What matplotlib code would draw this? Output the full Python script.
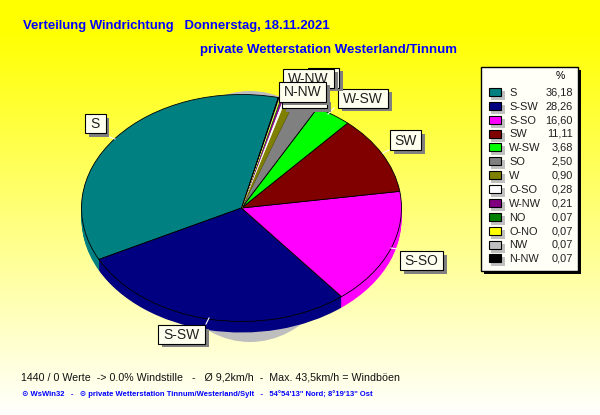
import numpy as np
import matplotlib
matplotlib.use("Agg")
import matplotlib.pyplot as plt
from matplotlib.patches import Rectangle, Ellipse

directions = ["S", "S-SW", "S-SO", "SW", "W-SW", "SO", "W", "O-SO", "W-NW", "NO", "O-NO", "NW", "N-NW"]
percent = [36.18, 28.26, 16.60, 11.11, 3.68, 2.50, 0.90, 0.28, 0.21, 0.07, 0.07, 0.07, 0.07]
colors = ["#008080", "#000080", "#FF00FF", "#800000", "#00FF00", "#808080", "#808000",
          "#FFFFFF", "#800080", "#008000", "#FFFF00", "#C0C0C0", "#000000"]

W, H = 600, 415
plt.rcParams["font.family"] = ["Liberation Sans", "DejaVu Sans"]
fig = plt.figure(figsize=(W / 100, H / 100), dpi=100)

# full figure axes in pixel coords, y downwards
bg = fig.add_axes([0, 0, 1, 1])
bg.set_xlim(0, W)
bg.set_ylim(H, 0)
bg.axis("off")
grad = np.ones((H, 1, 3))
grad[:, 0, 2] = np.clip((np.arange(H) - 30) / 385, 0, 1)
bg.imshow(grad, extent=[0, W, H, 0], aspect="auto", zorder=0)
# grey shadow peeking out above and below the pie
bg.add_patch(Ellipse((250, 216.5), 200, 251, fc="#BEBEBE", ec="none", zorder=1))
bg.set_xlim(0, W)
bg.set_ylim(H, 0)

# pie
px0, px1, py0, py1 = 81.5, 401.5, 94.5, 321.5
pie_ax = fig.add_axes([px0 / W, 1 - py1 / H, (px1 - px0) / W, (py1 - py0) / H], zorder=2)
depth = 11 / ((py1 - py0) / 2)
start = 76.7
for d in np.linspace(depth, 0.01, 12):
    pie_ax.pie(percent, colors=colors, startangle=start, center=(0, -d), radius=1,
               wedgeprops={"linewidth": 0})
# top face with its thin black outline, none on the tiny slices or they go all black
top_wedges, _ = pie_ax.pie(percent, colors=colors, startangle=start, radius=1,
                           wedgeprops={"linewidth": 0.6, "edgecolor": "black"})
for w, val, col in zip(top_wedges, percent, colors):
    if val < 1:
        w.set_edgecolor(col)
        w.set_linewidth(0.5)
pie_ax.set_aspect("auto")
pie_ax.set_xlim(-1, 1)
pie_ax.set_ylim(-1, 1)
pie_ax.axis("off")
for p in pie_ax.patches:
    p.set_clip_on(False)

# overlay for labels and legend
ov = fig.add_axes([0, 0, 1, 1], zorder=3)
ov.set_xlim(0, W)
ov.set_ylim(H, 0)
ov.axis("off")


def box(x0, y0, x1, y1, text="", z=5, fs=10):
    ov.add_patch(Rectangle((x0 + 3.5, y0 + 3.5), x1 - x0, y1 - y0, fc="#808080", ec="none", zorder=z))
    ov.add_patch(Rectangle((x0, y0), x1 - x0, y1 - y0, fc="#FFFFF0", ec="black", lw=0.8, zorder=z + 0.1))
    if text:
        ov.text((x0 + x1) / 2, (y0 + y1) / 2 + 0.5, text, ha="center", va="center",
                fontsize=fs, color="#202020", zorder=z + 0.2)


# leader lines
ov.plot([108, 115], [136.5, 139], color="white", lw=0.8, zorder=4)
ov.plot([209, 206], [318, 324], color="white", lw=0.8, zorder=4)
ov.plot([391, 397], [248, 249], color="white", lw=0.8, zorder=4)
ov.plot([334, 328], [108, 114], color="white", lw=0.8, zorder=4)
ov.plot([389, 383], [150, 153], color="white", lw=0.8, zorder=4)

box(85, 114, 105.5, 133, "S")
box(158, 325, 205, 343.5, "S-SW")
box(400, 251, 443, 270, "S-SO")
box(390, 130, 421, 150, "SW")
box(338, 89, 388, 108, "W-SW")
box(282, 98, 327, 108, "", z=5)
box(308, 68, 339, 88, "", z=6)
box(283, 69, 334, 88, "W-NW", z=7)
box(279, 82, 326, 102, "N-NW", z=8)

# legend
ov.add_patch(Rectangle((484, 70), 97, 204, fc="black", ec="none", zorder=5))
ov.add_patch(Rectangle((481, 67), 97, 204, fc="#FFFFF8", ec="black", lw=1, zorder=5.1))
ov.text(560, 76, "%", ha="center", va="center", fontsize=7.5, zorder=6)
for i, (name, val, col) in enumerate(zip(directions, percent, colors)):
    y = 92 + i * 13.87
    ov.add_patch(Rectangle((491, y - 1), 14, 9, fc="#C0C0C0", ec="none", zorder=5.5))
    ov.add_patch(Rectangle((488.5, y - 4), 12.5, 8, fc=col, ec="black", lw=0.8, zorder=5.6))
    ov.text(509, y + 0.8, name, ha="left", va="center", fontsize=7.9, color="#202020", zorder=6)
    ov.text(573, y + 0.3, f"{val:.2f}".replace(".", ","), ha="right", va="center",
            fontsize=7.9, color="#202020", zorder=6)

# titles
ov.text(23, 26, "Verteilung Windrichtung   Donnerstag, 18.11.2021", ha="left", va="center",
        fontsize=9.45, fontweight="bold", color="#0000FF")
ov.text(200, 50, "private Wetterstation Westerland/Tinnum", ha="left", va="center",
        fontsize=9.55, fontweight="bold", color="#0000FF")

# footer
ov.text(21, 377, "1440 / 0 Werte  -> 0.0% Windstille   -   Ø 9,2km/h  -  Max. 43,5km/h = Windböen",
        ha="left", va="center", fontsize=7.68, color="#101010")
ov.text(22, 394.5, "⊙ WsWin32   -   ⊙ private Wetterstation Tinnum/Westerland/Sylt   -   54°54'13\" Nord; 8°19'13\" Ost",
        ha="left", va="center", fontsize=5.5, fontweight="bold", color="#0000FF")

fig.savefig("out.png", dpi=100)
